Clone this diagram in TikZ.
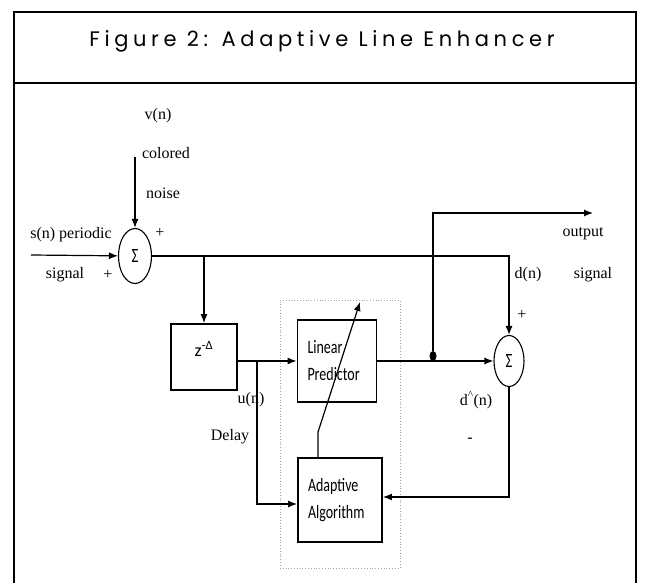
\documentclass[tikz,border=0pt]{standalone}
\usepackage{fontspec}
\setmainfont{Liberation Serif}
\newfontfamily\boxfont{Carlito}
\newfontfamily\titlefont[LetterSpace=22]{Poppins}
\usepackage{graphicx}
\usetikzlibrary{shapes.geometric,arrows.meta}
\newcommand{\tall}[1]{\scalebox{1}[1.35]{#1}}

\begin{document}
\begin{tikzpicture}[
    x=1pt, y=-1pt,
    every node/.style={font=\fontsize{16}{19}\selectfont, inner sep=0pt},
    box/.style={rectangle, draw, line width=1.8pt, align=left, font=\boxfont\fontsize{14}{27}\selectfont, inner xsep=10pt},
    sum/.style={ellipse, draw, line width=1.1pt, font=\boxfont\fontsize{15}{15}\selectfont},
    group/.style={rectangle, draw=gray!70, dotted, line width=0.8pt},
    arrow/.style={->, >={Latex[length=9pt,width=7pt]}, line width=1.2pt},
]
\useasboundingbox (0,0) rectangle (647,583);
% frame and title
\draw[line width=1.3pt] (14,583) -- (14,12) -- (636,12) -- (636,583);
\draw[line width=1.8pt] (14,83) -- (636,83);
\node[font=\titlefont\fontsize{21}{24}\selectfont, anchor=base] (title) at (322,47) {Figure 2: Adaptive Line Enhancer};

% blocks
\node[group, minimum width=120pt, minimum height=268pt] (grp) at (340,434) {};
\node[sum, minimum width=33pt, minimum height=55pt] (sumA) at (135,256) {\tall{Σ}};
\node[box, minimum width=66pt, minimum height=66pt, align=center, font=\boxfont\fontsize{18}{20}\selectfont] (delay) at (204,357) {\raisebox{16pt}{z\textsuperscript{-Δ}}};
\node[box, text width=59pt, minimum height=82pt] (lp) at (337,361) {\tall{Linear}\\\tall{Predictor}};
\node[box, text width=64pt, minimum height=84pt] (aa) at (340,500) {\tall{Adaptive}\\\tall{Algorithm}};
\node[sum, minimum width=30pt, minimum height=51pt] (sumB) at (509,361) {\tall{Σ}};
\node[ellipse, fill, minimum width=7pt, minimum height=10pt] (tap) at (433,356) {};

% free ends
\coordinate (sin) at (31,255);
\coordinate (vin) at (135,157);
\coordinate (out) at (593,213);
\coordinate (tip) at (360,302);

% connectors
\draw[arrow] (sin) -- (sumA);
\draw[arrow] (vin) -- (sumA);
\draw[arrow] (sumA.east) -| (sumB.north);
\draw[arrow] (sumA.east -| delay.north) -- (delay.north);
\draw[arrow] (delay.east |- lp.west) -- (lp.west);
\coordinate (un) at (257,361);
\draw[arrow] (un) |- ([yshift=-4pt]aa.west);
\draw[arrow] (lp) -- (sumB);
\draw[arrow] (tap) |- (out);
\draw[arrow] (sumB.south) |- ([yshift=3pt]aa.east);
\draw[arrow] ([xshift=-22pt]aa.north) -- ++(0,-25) -- (tip);

% labels
\node (vn) at (158,116) {v(n)};
\node (colored) at (166,153) {colored};
\node (noise) at (163,193) {noise};
\node (sn) at (71,235) {s(n) periodic};
\node (sig) at (65,275) {signal};
\node (p1) at (108,275) {+};
\node (p2) at (160,233) {+};
\node (dl) at (230,437) {Delay};
\node (unl) at (251,400) {u(n)};
\node (outl) at (583,234) {output};
\node (outs) at (593,275) {signal};
\node (dn) at (528,275) {d(n)};
\node (p3) at (522,315) {+};
\node (dh) at (476,400) {d\textsuperscript{\^{}}(n)};
\node (m1) at (470,440) {-};
\end{tikzpicture}
\end{document}
